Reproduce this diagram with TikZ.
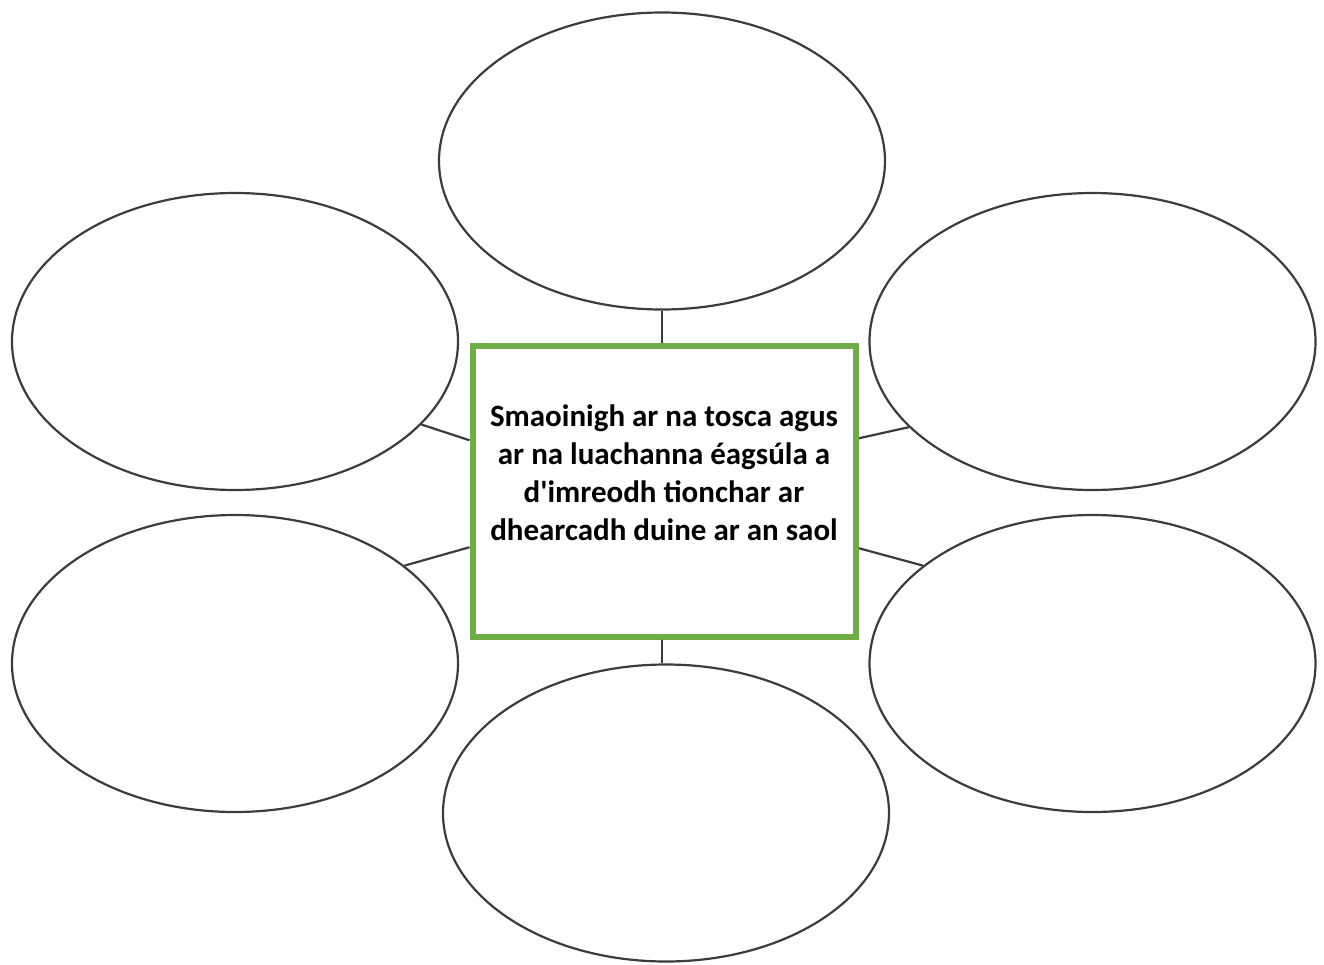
\documentclass[tikz,border=0pt]{standalone}
\usepackage{fontspec}
\setmainfont{Carlito}
\usetikzlibrary{shapes.geometric}
\definecolor{boxgreen}{HTML}{70AD47}
\definecolor{rimgray}{HTML}{3C3C3C}
\begin{document}
\begin{tikzpicture}[x=1pt,y=-1pt,
	bubble/.style={ellipse,draw=rimgray,line width=2.2pt,minimum width=446pt,minimum height=297pt,inner sep=0pt},
	spoke/.style={draw=rimgray,line width=2.2pt}]
\useasboundingbox (0,0) rectangle (1324,964);
% bubbles round the centre
\node[bubble] (top) at (662,161) {};
\node[bubble] (tl) at (235,341.5) {};
\node[bubble] (tr) at (1092.5,341.5) {};
\node[bubble] (bl) at (235,663.5) {};
\node[bubble] (br) at (1092.5,663.5) {};
\node[bubble] (bot) at (666,813) {};
% centre box
\node[draw=boxgreen,line width=6pt,minimum width=383.5pt,minimum height=290.5pt,inner sep=0pt] (box) at (664.25,491.25) {};
\node[anchor=base,align=center,font=\fontsize{31}{38}\selectfont\bfseries] (txt) at (664,540)
	{Smaoinigh ar na tosca agus\\ar na luachanna éagsúla a\\d\textquotesingle imreodh tionchar ar\\dhearcadh duine ar an saol};
% spokes
\path[spoke] ([xshift=-2pt]box.north) -- ([xshift=-2pt]box.north |- top.south);
\path[spoke] ([xshift=-2pt]box.south) -- ([xshift=-2pt]box.south |- bot.north);
\path[spoke] ([yshift=51pt]box.west) -- (tl.-24.7);
\path[spoke] ([yshift=-56pt]box.west) -- (bl.30.1);
\path[spoke] ([yshift=53pt]box.east) -- (tr.-155.7);
\path[spoke] ([yshift=-57pt]box.east) -- (br.150.3);
\end{tikzpicture}
\end{document}
